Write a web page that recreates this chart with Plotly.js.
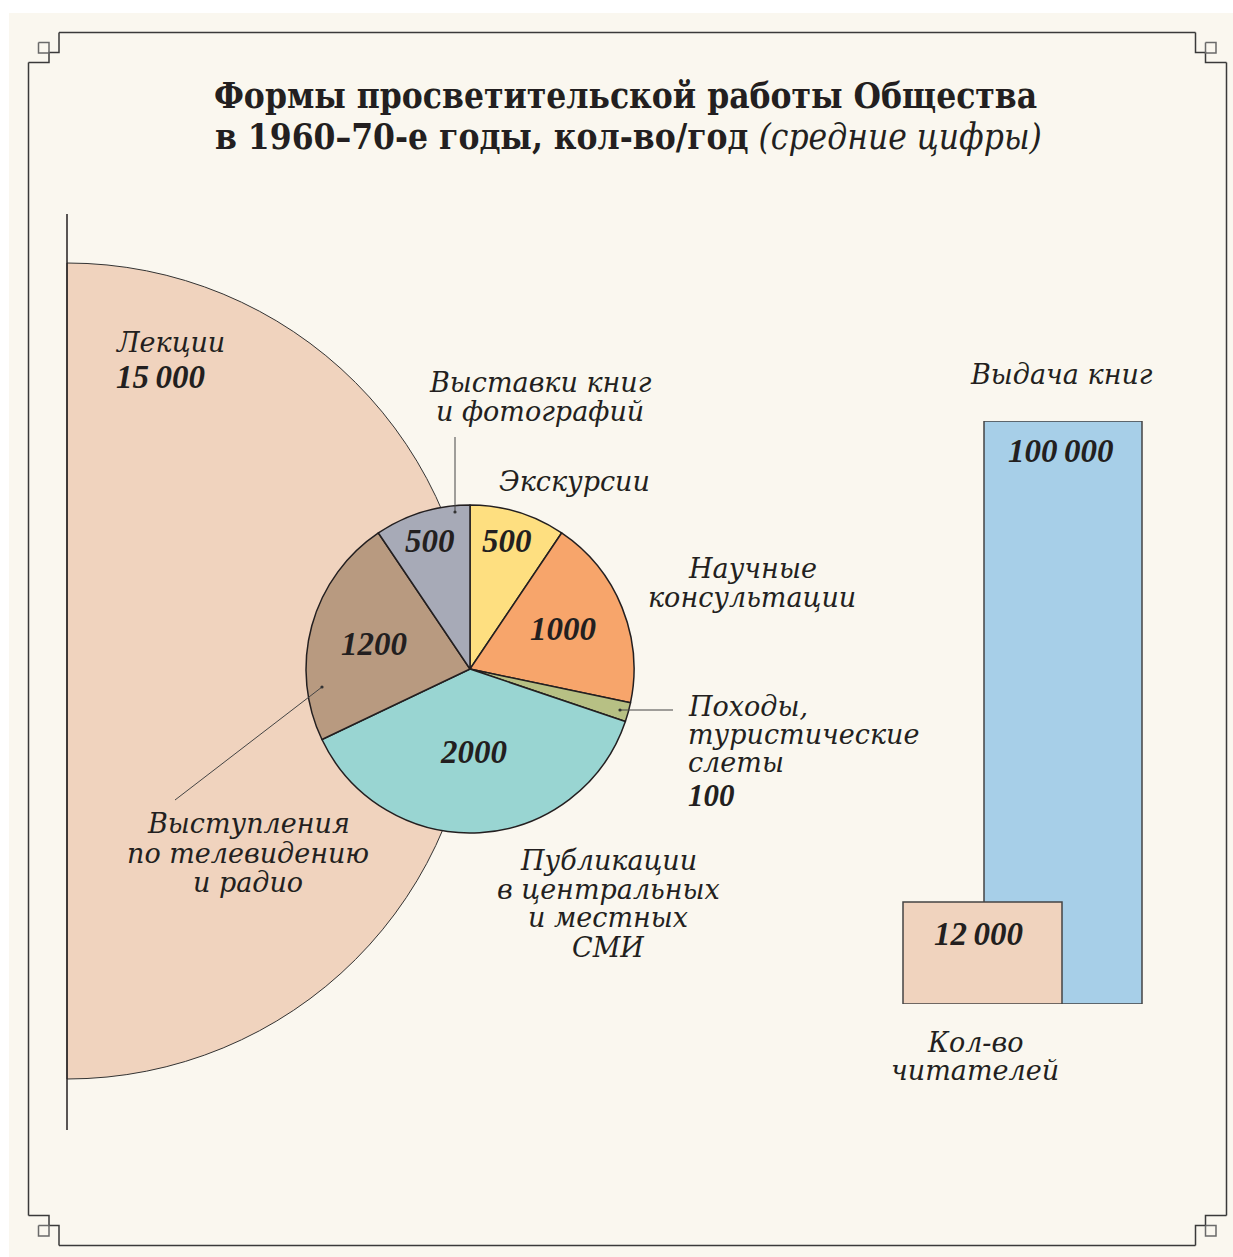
<!DOCTYPE html>
<html>
<head>
<meta charset="utf-8">
<script src="https://cdn.plot.ly/plotly-3.0.1.min.js"></script>
<style>
html,body{margin:0;padding:0;background:#ffffff;overflow:hidden;width:1233px;height:1257px;}
#chart{position:absolute;left:-400px;top:0;width:1633px;height:1257px;}
</style>
</head>
<body>
<div id="chart"></div>
<script>
// ---------- DATA ----------
const titleLine1 = 'Формы просветительской работы Общества';
const titleLine2 = 'в 1960–70-е годы, кол-во/год';
const titleNote = '(средние цифры)';

const lectureLabel = 'Лекции';
const lectureValue = 15000;

const pieLabels = [
  'Экскурсии',
  'Научные консультации',
  'Походы, туристические слеты',
  'Публикации в центральных и местных СМИ',
  'Выступления по телевидению и радио',
  'Выставки книг и фотографий'
];
const pieLabelLines = [
  ['Экскурсии'],
  ['Научные', 'консультации'],
  ['Походы,', 'туристические', 'слеты'],
  ['Публикации', 'в центральных', 'и местных', 'СМИ'],
  ['Выступления', 'по телевидению', 'и радио'],
  ['Выставки книг', 'и фотографий']
];
const pieValues = [500, 1000, 100, 2000, 1200, 500];

const barLabels = ['Кол-во читателей', 'Выдача книг'];
const barLabelLines = [['Кол-во', 'читателей'], ['Выдача книг']];
const barValues = [12000, 100000];

// ---------- STYLE ----------
const SH = 400, W = 1633, H = 1257;
const px = x => (x + SH) / W;
const py = y => 1 - y / H;
const INK = '#231f20';
const pieColors = ['#FEDF80', '#F7A56B', '#B7C084', '#99D5D2', '#B89A80', '#A7AAB7'];
const peach = '#F0D3BE';
const blue = '#A7CFE8';
const cream = '#FAF7EF';
const LBL = 'DejaVu Serif, serif';
const NUM = 'Liberation Serif, Times New Roman, serif';
const TTL = 'DejaVu Serif Condensed, DejaVu Serif, serif';

function fmt(v) {
  if (v >= 10000) return String(v).replace(/\B(?=(\d{3})+(?!\d))/g, '\u2009');
  return String(v);
}

const annotations = [];
function ann(text, x, y, font, anchor) {
  annotations.push({
    text: text, xref: 'paper', yref: 'paper', x: px(x), y: py(y),
    xanchor: anchor || 'center', yanchor: 'middle', showarrow: false,
    font: Object.assign({color: INK}, font)
  });
}
const lblFont = {family: LBL, size: 27};
const numFont = {family: NUM, size: 33};

// title
ann('<b>' + titleLine1 + '</b>', 625, 95, {family: TTL, size: 35});
ann('<b>' + titleLine2 + '</b> <i>' + titleNote + '</i>', 628, 136, {family: TTL, size: 35});

// lecture labels
ann('<i>' + lectureLabel + '</i>', 170, 342, lblFont);
ann('<b><i>' + fmt(lectureValue) + '</i></b>', 160, 377, numFont);

// pie value labels
const pieNumPos = [[507, 541], [563, 629], null, [474, 752], [374, 644], [430, 541]];
pieValues.forEach((v, i) => {
  if (pieNumPos[i]) ann('<b><i>' + fmt(v) + '</i></b>', pieNumPos[i][0], pieNumPos[i][1], numFont);
});

// pie category labels
function lines(arr, x, y0, step, anchor) {
  arr.forEach((t, k) => ann('<i>' + t + '</i>', x, y0 + k * step, lblFont, anchor));
}
lines(pieLabelLines[0], 574, 481, 29);
lines(pieLabelLines[1], 752, 568, 29);
lines(pieLabelLines[2], 686, 706, 28.5, 'left');
ann('<b><i>' + fmt(pieValues[2]) + '</i></b>', 686, 795, {family: NUM, size: 31}, 'left');
lines(pieLabelLines[3], 608, 860, 29);
lines(pieLabelLines[4], 248, 824, 29);
lines(pieLabelLines[5], 540, 382, 29);

// bar labels
lines(barLabelLines[1], 1061, 375, 29);
ann('<b><i>' + fmt(barValues[1]) + '</i></b>', 1061, 451, numFont);
ann('<b><i>' + fmt(barValues[0]) + '</i></b>', 978, 934, numFont);
lines(barLabelLines[0], 975, 1042, 28.5);

// ---------- SHAPES ----------
const shapes = [];
shapes.push({type: 'rect', xref: 'paper', yref: 'paper', x0: px(9), x1: px(1240), y0: py(13), y1: py(1262),
  fillcolor: cream, line: {width: 0}, layer: 'below'});

function P(pts) {
  return pts.map((p, i) => (i ? 'L' : 'M') + px(p[0]) + ',' + py(p[1])).join(' ');
}
function pathShape(pts, color, w, layer) {
  shapes.push({type: 'path', xref: 'paper', yref: 'paper', path: P(pts),
    line: {color: color, width: w}, layer: layer || 'above'});
}
const BC = '#3a3a3a', SQ = '#6a6a6a';
// frame
pathShape([[59, 32.5], [1195.5, 32.5]], BC, 1.5);
pathShape([[59, 1245.5], [1195.5, 1245.5]], BC, 1.5);
pathShape([[28.5, 62.5], [28.5, 1215.5]], BC, 1.5);
pathShape([[1226.5, 62.5], [1226.5, 1215.5]], BC, 1.5);
// corners
pathShape([[28.5, 62.5], [49, 62.5], [49, 52.5], [59, 52.5], [59, 32.5]], BC, 1.5);
pathShape([[28.5, 1215.5], [49, 1215.5], [49, 1225.5], [59, 1225.5], [59, 1245.5]], BC, 1.5);
pathShape([[1226.5, 62.5], [1205.5, 62.5], [1205.5, 52.5], [1195.5, 52.5], [1195.5, 32.5]], BC, 1.5);
pathShape([[1226.5, 1215.5], [1205.5, 1215.5], [1205.5, 1225.5], [1195.5, 1225.5], [1195.5, 1245.5]], BC, 1.5);
function sq(x0, y0) {
  pathShape([[x0, y0], [x0 + 10.5, y0], [x0 + 10.5, y0 + 10.5], [x0, y0 + 10.5], [x0, y0]], SQ, 1.5);
}
sq(38.5, 42.5); sq(1205.5, 42.5); sq(38.5, 1225.5); sq(1205.5, 1225.5);

// lecture axis line
pathShape([[67, 214], [67, 1130]], INK, 1.5);

// leader lines
pathShape([[455, 437], [455, 512]], '#444', 1);
pathShape([[620, 710], [673, 710]], '#444', 1);
pathShape([[322, 687], [175, 800]], '#444', 1);
function dot(x, y) {
  shapes.push({type: 'circle', xref: 'paper', yref: 'paper', x0: px(x - 1.6), x1: px(x + 1.6), y0: py(y + 1.6), y1: py(y - 1.6),
    fillcolor: '#333', line: {width: 0}, layer: 'above'});
}
dot(455, 512); dot(620, 710); dot(322, 687);

// ---------- TRACES ----------
const bigR = 408;
const bigCx = 67 + SH, bigCy = 671;
const smallCx = 470 + SH, smallCy = 669, smallR = 164;

const traces = [
  {
    type: 'bar', x: [1063], y: [barValues[1]], width: [158], name: barLabels[1],
    xaxis: 'x', yaxis: 'y', marker: {color: blue, line: {color: '#444', width: 1.5}},
    hoverinfo: 'none'
  },
  {
    type: 'bar', x: [982.5], y: [barValues[0]], width: [159], name: barLabels[0],
    xaxis: 'x', yaxis: 'y2', marker: {color: peach, line: {color: '#444', width: 1.5}},
    hoverinfo: 'none'
  },
  {
    type: 'pie', values: [lectureValue, lectureValue], labels: [lectureLabel, ''],
    sort: false, direction: 'clockwise', rotation: 0, textinfo: 'none', hoverinfo: 'none',
    marker: {colors: [peach, 'rgba(0,0,0,0)'], line: {color: ['#333', 'rgba(0,0,0,0)'], width: [1, 0]}},
    domain: {x: [(bigCx - bigR) / W, (bigCx + bigR) / W], y: [1 - (bigCy + bigR) / H, 1 - (bigCy - bigR) / H]},
    showlegend: false
  },
  {
    type: 'pie', values: pieValues, labels: pieLabels,
    sort: false, direction: 'clockwise', rotation: 0, textinfo: 'none', hoverinfo: 'none',
    marker: {colors: pieColors, line: {color: INK, width: 1.5}},
    domain: {x: [(smallCx - smallR) / W, (smallCx + smallR) / W], y: [1 - (smallCy + smallR) / H, 1 - (smallCy - smallR) / H]},
    showlegend: false
  }
];

const hidden = {showgrid: false, zeroline: false, showticklabels: false, showline: false, ticks: '', fixedrange: true};
const layout = {
  width: W, height: H,
  margin: {l: 0, r: 0, t: 0, b: 0, pad: 0},
  paper_bgcolor: '#ffffff', plot_bgcolor: 'rgba(0,0,0,0)',
  showlegend: false, barmode: 'overlay',
  xaxis: Object.assign({range: [-SH, 1233], domain: [0, 1]}, hidden),
  yaxis: Object.assign({range: [0, barValues[1]], domain: [py(1004), py(421)]}, hidden),
  yaxis2: Object.assign({range: [0, barValues[0] * 583 / 102], overlaying: 'y'}, hidden),
  shapes: shapes,
  annotations: annotations
};

Plotly.newPlot('chart', traces, layout, {staticPlot: true, displayModeBar: false});
</script>
</body>
</html>
